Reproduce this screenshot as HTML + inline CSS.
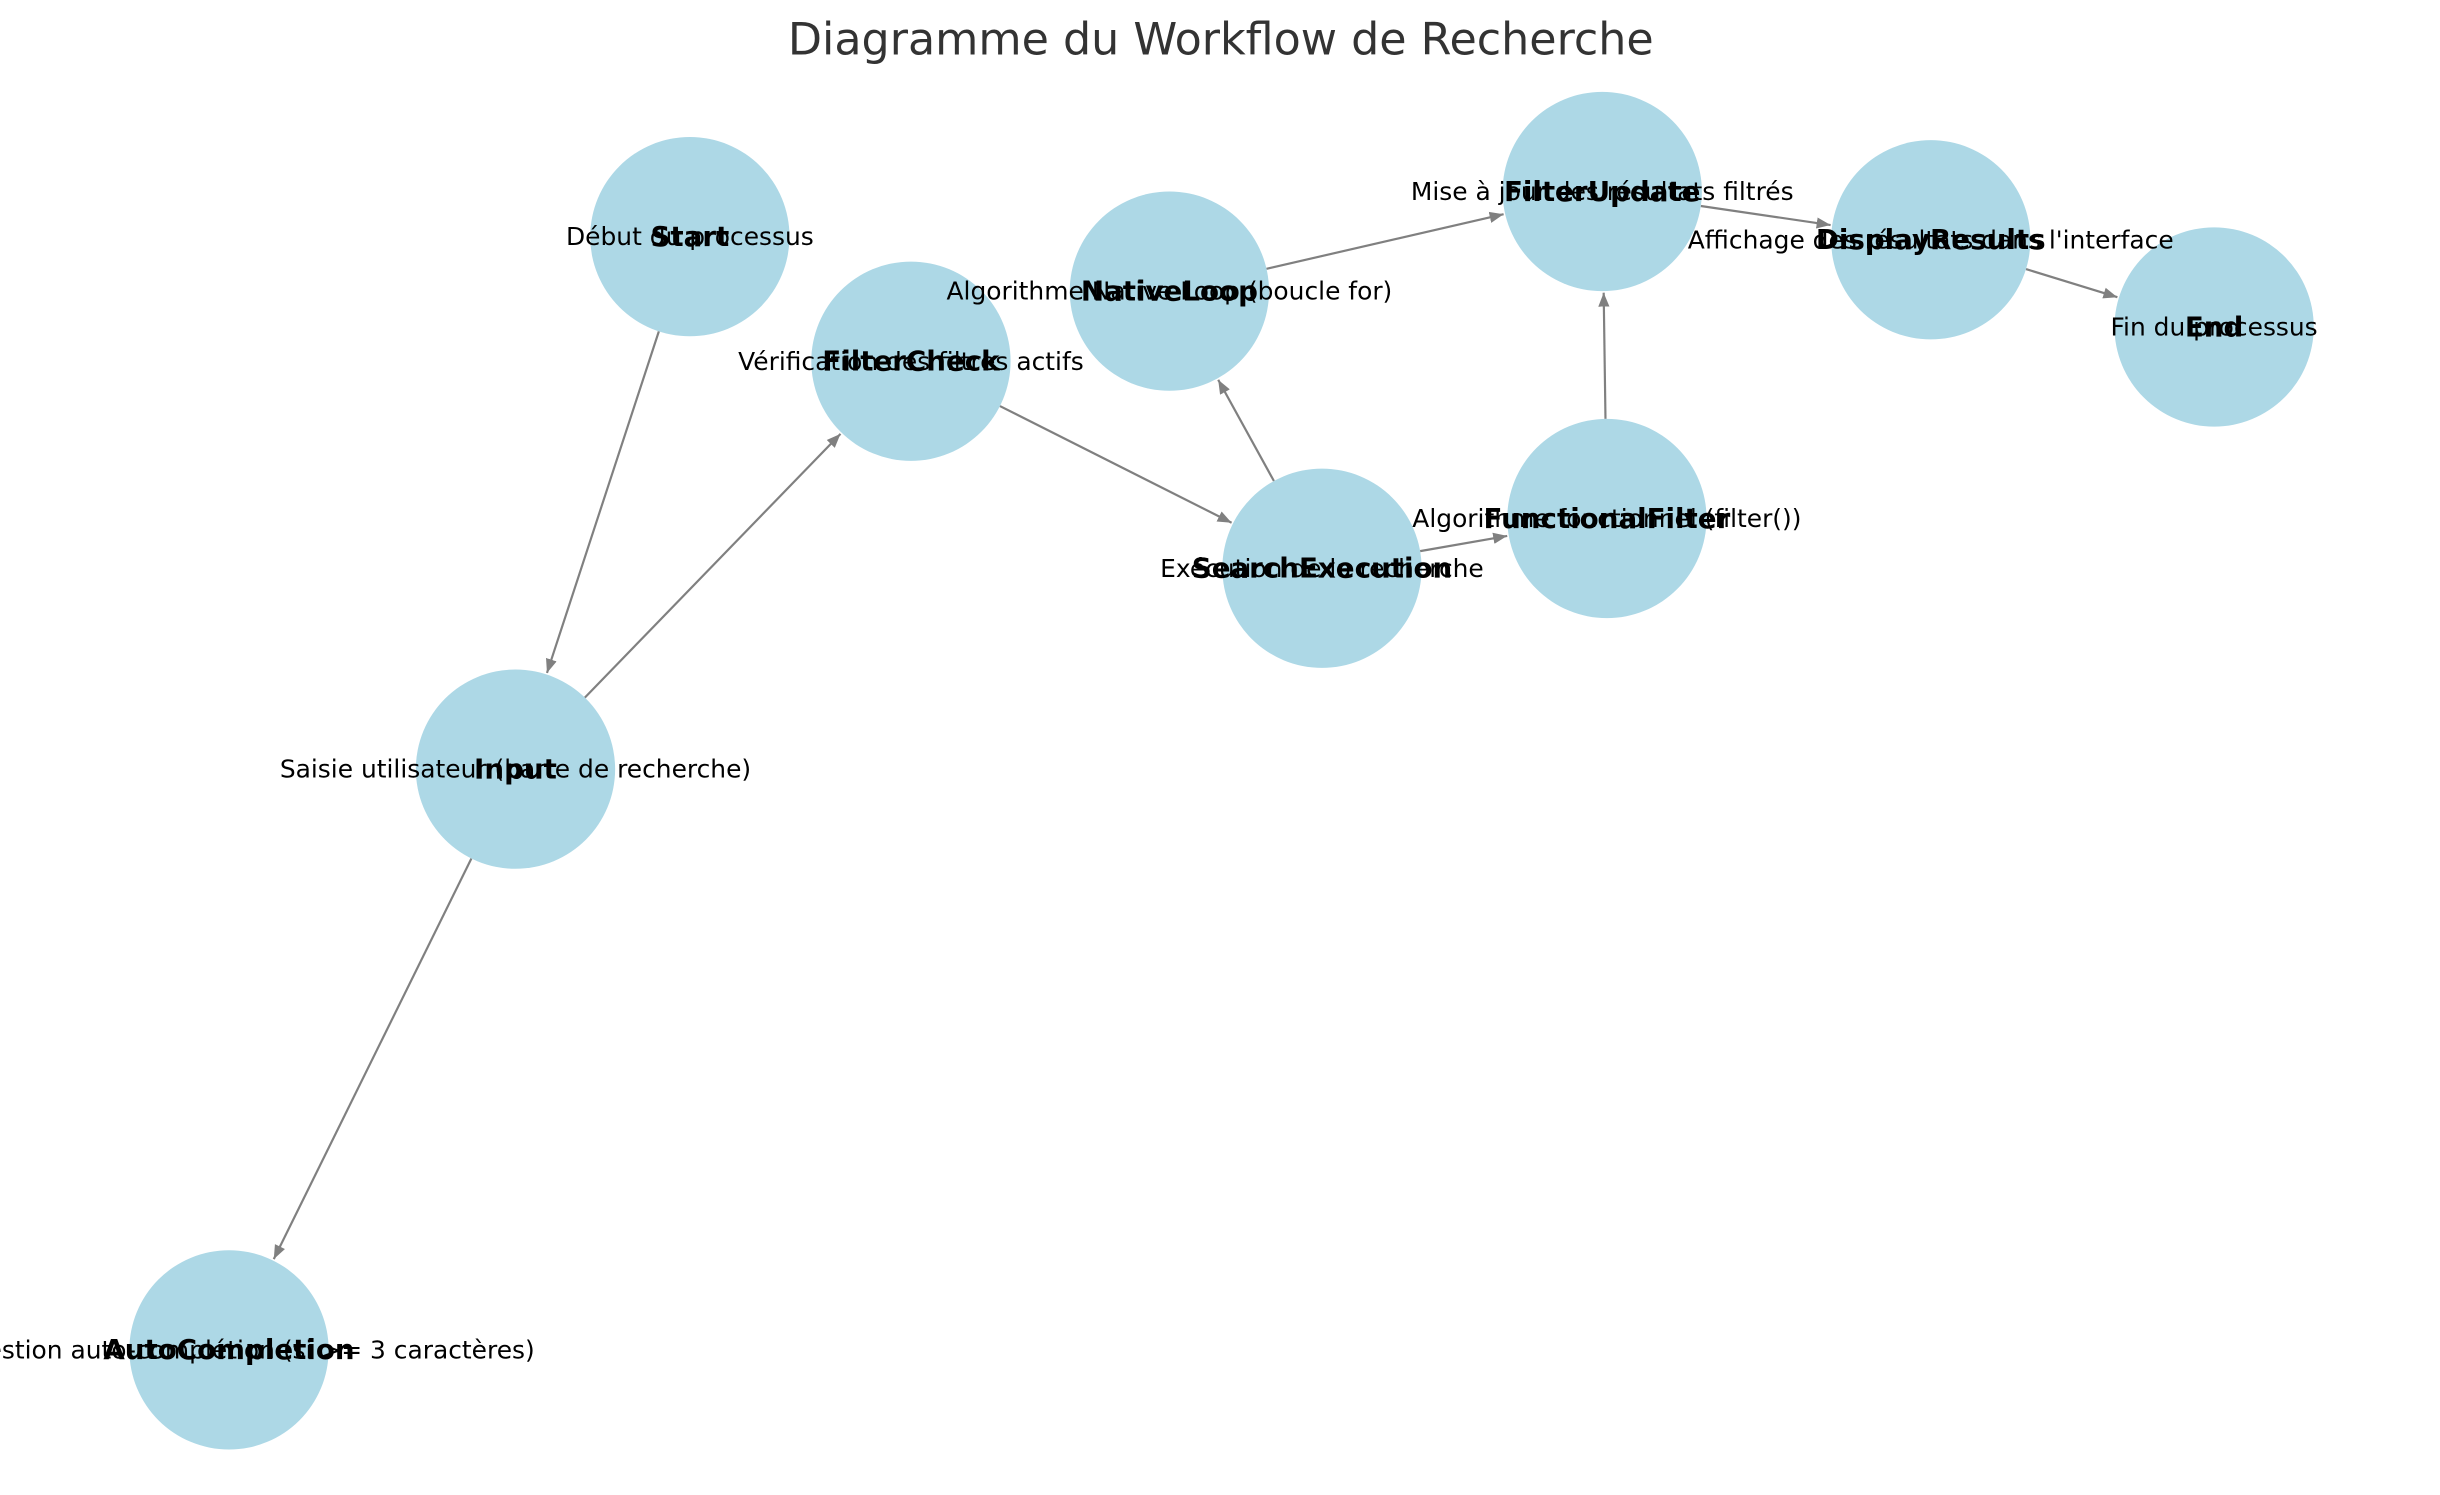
<!DOCTYPE html>
<html><head><meta charset="utf-8"><style>
html,body{margin:0;padding:0;background:#fff;}
svg text{font-family:"DejaVu Sans","Liberation Sans",sans-serif;}
</style></head><body>
<svg id="chart" width="2440" height="1490" viewBox="0 0 1567 957" xmlns="http://www.w3.org/2000/svg">
<defs><marker id="ah" viewBox="0 0 10 10" refX="10" refY="5" markerWidth="9" markerHeight="9" markerUnits="userSpaceOnUse" orient="auto"><path d="M0,1 L10,5 L0,9 z" fill="#808080"/></marker></defs>
<text x="784" y="35" text-anchor="middle" font-size="28.5" fill="#333">Diagramme du Workflow de Recherche</text>
<g id="edges"></g><g id="nodes"></g><g id="labels"></g>
</svg>
<script>
const nodeNames = ["Start","FilterCheck","NativeLoop","FilterUpdate","DisplayResults","End","SearchExecution","FunctionalFilter","Input","AutoCompletion"];
const nodeX = [443,585,751,1029,1240,1422,849,1032,331,147];
const nodeY = [152,232,187,123,154,210,365,333,494,867];
const nodeDesc = ["Début du processus","Vérification des filtres actifs","Algorithme Native Loop (boucle for)","Mise à jour des résultats filtrés","Affichage des résultats dans l'interface","Fin du processus","Exécution de la recherche","Algorithme fonctionnel (filter())","Saisie utilisateur (barre de recherche)","Suggestion auto-complétion (si >= 3 caractères)"];
const edgeFrom = ["Start","Input","Input","FilterCheck","SearchExecution","SearchExecution","NativeLoop","FunctionalFilter","FilterUpdate","DisplayResults"];
const edgeTo = ["Input","FilterCheck","AutoCompletion","SearchExecution","NativeLoop","FunctionalFilter","FilterUpdate","FilterUpdate","DisplayResults","End"];
const NS="http://www.w3.org/2000/svg", R=64;
const eg=document.getElementById('edges'), ng=document.getElementById('nodes'), lg=document.getElementById('labels');
function idx(n){return nodeNames.indexOf(n);}
for(let i=0;i<edgeFrom.length;i++){
  const a=idx(edgeFrom[i]), b=idx(edgeTo[i]);
  const dx=nodeX[b]-nodeX[a], dy=nodeY[b]-nodeY[a], d=Math.hypot(dx,dy), ux=dx/d, uy=dy/d;
  const l=document.createElementNS(NS,'line');
  l.setAttribute('x1',nodeX[a]+ux*R);l.setAttribute('y1',nodeY[a]+uy*R);
  l.setAttribute('x2',nodeX[b]-ux*(R+1));l.setAttribute('y2',nodeY[b]-uy*(R+1));
  l.setAttribute('stroke','#808080');l.setAttribute('stroke-width','1.4');l.setAttribute('marker-end','url(#ah)');
  
  
  eg.appendChild(l);
}
for(let i=0;i<nodeNames.length;i++){
  const c=document.createElementNS(NS,'circle');
  c.setAttribute('cx',nodeX[i]);c.setAttribute('cy',nodeY[i]);c.setAttribute('r',R);c.setAttribute('fill','#add8e6');
  
  
  ng.appendChild(c);
}
for(let i=0;i<nodeNames.length;i++){
  const t=document.createElementNS(NS,'text');
  t.setAttribute('x',nodeX[i]);t.setAttribute('y',nodeY[i]+5.5);t.setAttribute('text-anchor','middle');
  t.setAttribute('font-size','16');t.setAttribute('fill','#000');t.textContent=nodeDesc[i];
  
  
  lg.appendChild(t);
  const n=document.createElementNS(NS,'text');
  n.setAttribute('x',nodeX[i]);n.setAttribute('y',nodeY[i]+6);n.setAttribute('text-anchor','middle');
  n.setAttribute('font-size','17.8');n.setAttribute('font-weight','bold');n.setAttribute('fill','#000');n.textContent=nodeNames[i];
  
  
  lg.appendChild(n);
}
</script>
</body></html>
